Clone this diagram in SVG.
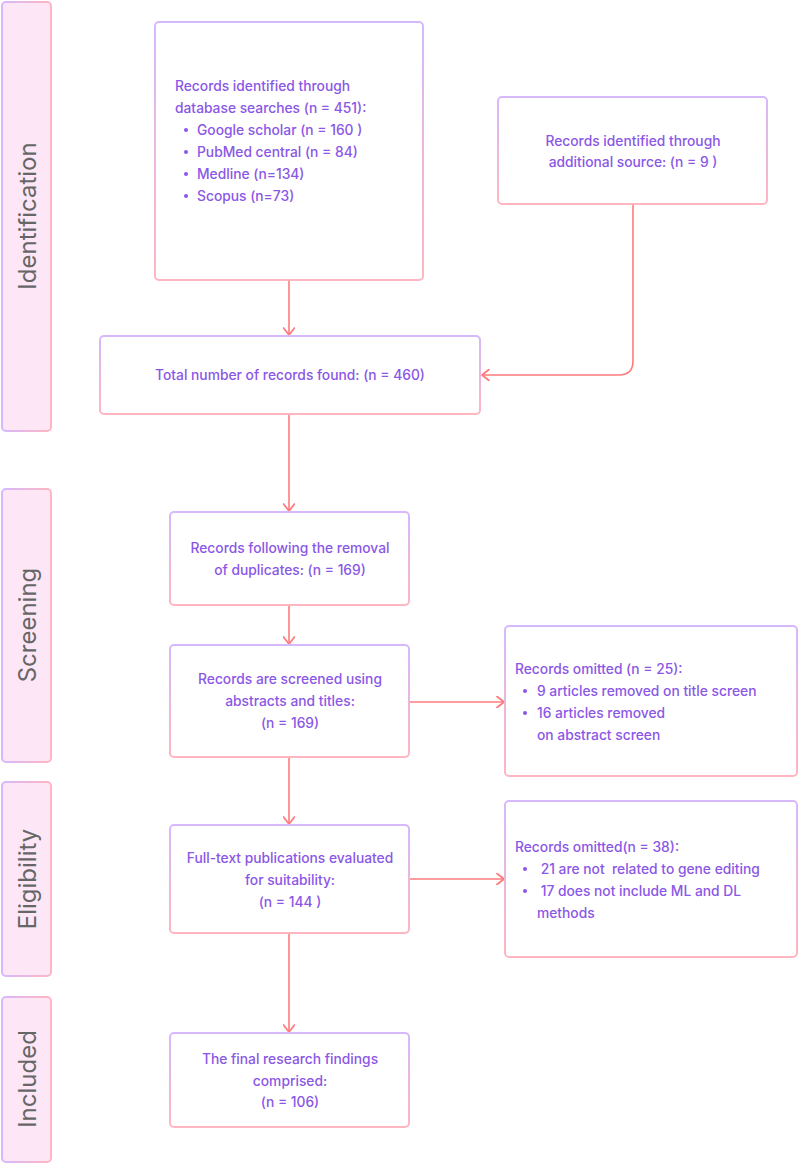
<svg xmlns="http://www.w3.org/2000/svg" width="799" height="1165" viewBox="0 0 799 1165">
<defs>
<linearGradient id="gv" x1="0" y1="0" x2="0" y2="1">
<stop offset="0" stop-color="#d6b8fc"/>
<stop offset="1" stop-color="#ffb6c1"/>
</linearGradient>
<linearGradient id="gh" x1="0" y1="0" x2="1" y2="0">
<stop offset="0" stop-color="#d6b8fc"/>
<stop offset="1" stop-color="#ffb6c1"/>
</linearGradient>
<marker id="ah" viewBox="0 0 12 12" refX="11" refY="6" markerWidth="12" markerHeight="12" markerUnits="userSpaceOnUse" orient="auto">
<path d="M4,0.5 L11,6 L4,11.5" fill="none" stroke="#ff7b7b" stroke-width="1.8" stroke-linecap="round" stroke-linejoin="round"/>
</marker>
</defs>
<style>
.box{fill:#ffffff;stroke:url(#gv);stroke-width:2}
.side{fill:#fde7f6;stroke:url(#gh);stroke-width:2}
.t{font-family:Inter,"Noto Sans","Liberation Sans",sans-serif;font-size:13.8px;font-weight:500;fill:#8a57e6}
.c{text-anchor:middle}
.lab{font-family:Inter,"Noto Sans","Liberation Sans",sans-serif;font-size:24px;fill:#666666;text-anchor:middle}
.con{fill:none;stroke:#ff7b7b;stroke-width:1.6;marker-end:url(#ah)}
.dot{fill:#8a57e6}
</style>
<rect width="799" height="1165" fill="#ffffff"/>

<g id="phase-identification">
<rect class="side" x="2" y="2" width="49" height="429" rx="4"/>
<text class="lab" transform="translate(36,216) rotate(-90)">Identification</text>
</g>
<g id="phase-screening">
<rect class="side" x="2" y="489" width="49" height="273" rx="4"/>
<text class="lab" transform="translate(36,625) rotate(-90)">Screening</text>
</g>
<g id="phase-eligibility">
<rect class="side" x="2" y="782" width="49" height="194" rx="4"/>
<text class="lab" transform="translate(36,879) rotate(-90)">Eligibility</text>
</g>
<g id="phase-included">
<rect class="side" x="2" y="997" width="49" height="165" rx="4"/>
<text class="lab" transform="translate(36,1079) rotate(-90)">Included</text>
</g>

<g id="connectors">
<path class="con" d="M289,281 V335"/>
<path class="con" d="M633,205 V361 Q633,375 619,375 H482"/>
<path class="con" d="M289,415 V511"/>
<path class="con" d="M289,606 V644"/>
<path class="con" d="M289,758 V824"/>
<path class="con" d="M289,934 V1032"/>
<path class="con" d="M410,702 H504"/>
<path class="con" d="M410,879 H504"/>
</g>

<g id="node-db">
<rect class="box" x="155" y="22" width="268" height="258" rx="4"/>
<text class="t" x="175" y="91">Records identified through</text>
<text class="t" x="175" y="113">database searches (n = 451):</text>
<circle class="dot" cx="186" cy="130" r="2"/>
<text class="t" x="197" y="135">Google scholar (n = 160 )</text>
<circle class="dot" cx="186" cy="152" r="2"/>
<text class="t" x="197" y="157">PubMed central (n = 84)</text>
<circle class="dot" cx="186" cy="174" r="2"/>
<text class="t" x="197" y="179">Medline (n=134)</text>
<circle class="dot" cx="186" cy="196" r="2"/>
<text class="t" x="197" y="201">Scopus (n=73)</text>
</g>

<g id="node-additional">
<rect class="box" x="498" y="97" width="269" height="107" rx="4"/>
<text class="t c" x="633" y="146">Records identified through</text>
<text class="t c" x="633" y="167">additional source: (n = 9 )</text>
</g>

<g id="node-total">
<rect class="box" x="100" y="336" width="380" height="78" rx="4"/>
<text class="t c" x="290" y="380">Total number of records found: (n = 460)</text>
</g>

<g id="node-dedup">
<rect class="box" x="170" y="512" width="239" height="93" rx="4"/>
<text class="t c" x="290" y="553">Records following the removal</text>
<text class="t c" x="290" y="575">of duplicates: (n = 169)</text>
</g>

<g id="node-screened">
<rect class="box" x="170" y="645" width="239" height="112" rx="4"/>
<text class="t c" x="290" y="684">Records are screened using</text>
<text class="t c" x="290" y="706">abstracts and titles:</text>
<text class="t c" x="290" y="728">(n = 169)</text>
</g>

<g id="node-omit1">
<rect class="box" x="505" y="626" width="292" height="150" rx="4"/>
<text class="t" x="515" y="674">Records omitted (n = 25):</text>
<circle class="dot" cx="525" cy="691" r="2"/>
<text class="t" x="537" y="696">9 articles removed on title screen</text>
<circle class="dot" cx="525" cy="713" r="2"/>
<text class="t" x="537" y="718">16 articles removed</text>
<text class="t" x="537" y="740">on abstract screen</text>
</g>

<g id="node-fulltext">
<rect class="box" x="170" y="825" width="239" height="108" rx="4"/>
<text class="t c" x="290" y="863">Full-text publications evaluated</text>
<text class="t c" x="290" y="885">for suitability:</text>
<text class="t c" x="290" y="907">(n = 144 )</text>
</g>

<g id="node-omit2">
<rect class="box" x="505" y="801" width="292" height="156" rx="4"/>
<text class="t" x="515" y="852">Records omitted(n = 38):</text>
<circle class="dot" cx="525" cy="869" r="2"/>
<text class="t" x="537" y="874" xml:space="preserve"> 21 are not  related to gene editing</text>
<circle class="dot" cx="525" cy="891" r="2"/>
<text class="t" x="537" y="896" xml:space="preserve"> 17 does not include ML and DL</text>
<text class="t" x="537" y="918">methods</text>
</g>

<g id="node-final">
<rect class="box" x="170" y="1033" width="239" height="94" rx="4"/>
<text class="t c" x="290" y="1064">The final research findings</text>
<text class="t c" x="290" y="1086">comprised:</text>
<text class="t c" x="290" y="1107">(n = 106)</text>
</g>
</svg>
